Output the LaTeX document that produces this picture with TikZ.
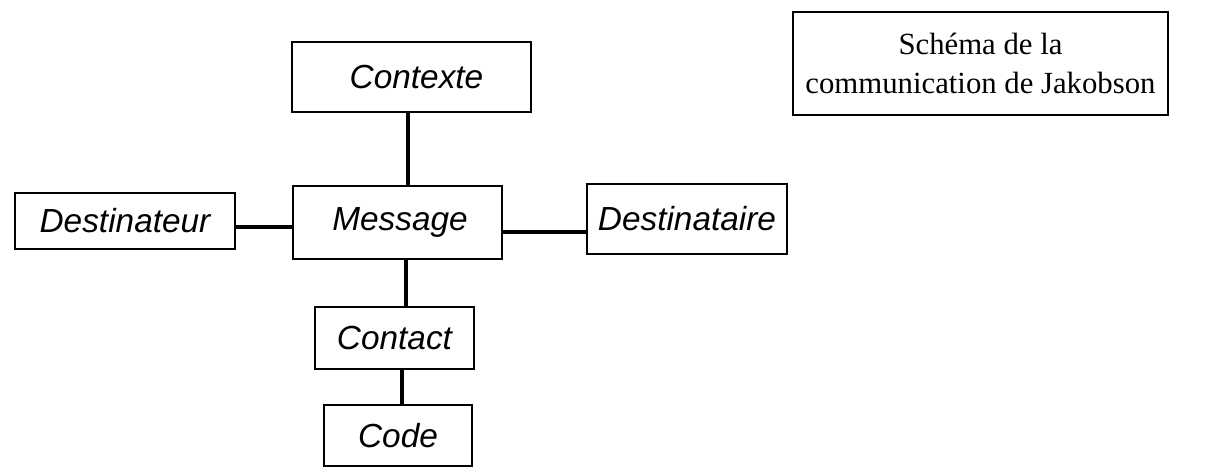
\documentclass[tikz,border=0pt]{standalone}
\usepackage{fontspec}
\setmainfont{Liberation Serif}
\newfontfamily\labelfont{Liberation Sans}
\usetikzlibrary{positioning}

\begin{document}
\begin{tikzpicture}[x=0.02cm, y=-0.02cm,
    elem/.style={draw, line width=1.1pt, inner sep=0pt,
        font=\labelfont\itshape\fontsize{19}{23}\selectfont},
    link/.style={line width=2.8pt}]
                        \useasboundingbox (0, 0) rectangle (1211, 468);

                        \node[elem, minimum width=4.78cm, minimum height=1.4cm] (contexte) at (411.5, 77) {\hspace{0.2cm}Contexte};
                        \node[elem, minimum width=4.18cm, minimum height=1.46cm] (message) at (397.5, 222.5) {\hspace{0.1cm}Message};
                        \node[elem, minimum width=4.4cm, minimum height=1.12cm] (destinateur) at (125, 221) {Destinateur};
                        \node[elem, minimum width=4cm, minimum height=1.4cm] (destinataire) at (687, 219) {Destinataire};
                        \node[elem, minimum width=3.18cm, minimum height=1.24cm] (contact) at (394.5, 338) {Contact};
                        \node[elem, minimum width=2.96cm, minimum height=1.22cm] (code) at (398, 435.5) {Code};
                        \node[draw, line width=0.8pt, minimum width=7.5cm, minimum height=2.06cm, align=center,
                            font=\fontsize{17.5}{22.5}\selectfont] (titre) at (980.5, 63.5) {Schéma de la\\communication de Jakobson};

                        \coordinate (g) at ([yshift=-0.12cm]destinateur.east);
                        \coordinate (d) at ([yshift=-0.19cm]message.east);
                        \coordinate (h) at ([xshift=-0.07cm]contexte.south);
                        \coordinate (b) at ([xshift=0.17cm]message.south);
                        \coordinate (c) at ([xshift=0.15cm]contact.south);

                        \draw[link]
                        (h) -- (h |- message.north)
                        (g) -- (g -| message.west)
                        (d) -- (d -| destinataire.west)
                        (b) -- (b |- contact.north)
                        (c) -- (c |- code.north);
                    \end{tikzpicture}
\end{document}
